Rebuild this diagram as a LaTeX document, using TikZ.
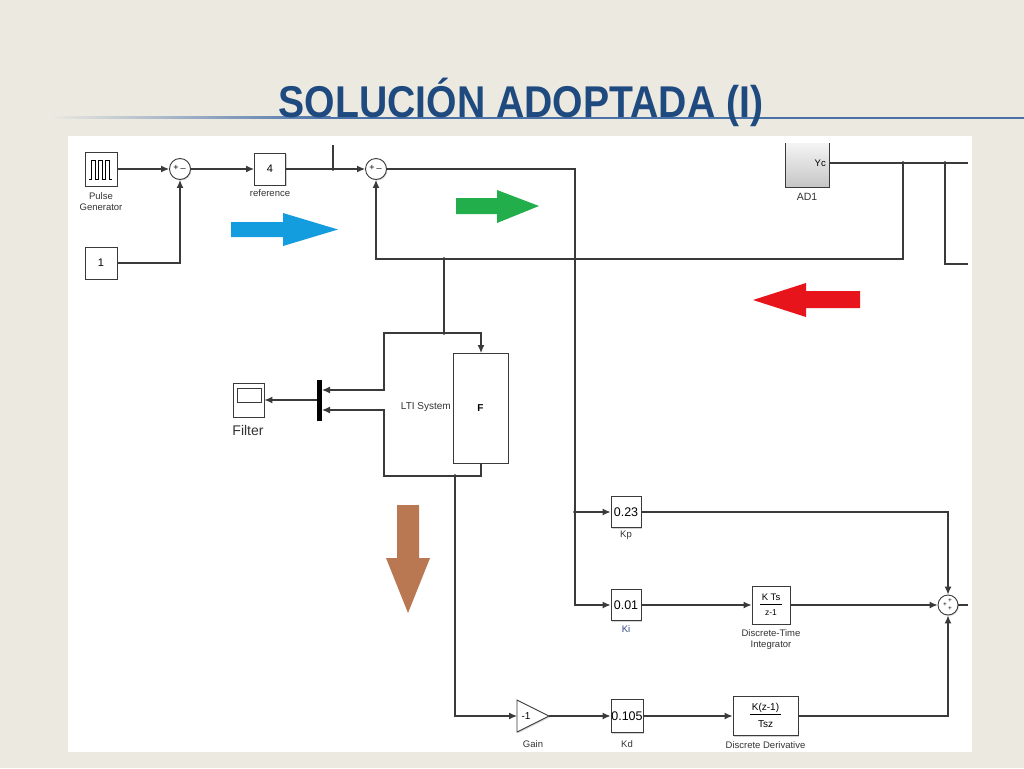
\documentclass[tikz,border=0pt]{standalone}
\usepackage{fontspec}
\setmainfont{Liberation Sans}
\usetikzlibrary{arrows.meta,shadows,calc}
\definecolor{bgc}{HTML}{ECE9E0}
\definecolor{tcol}{HTML}{1F4A80}
\definecolor{tline}{HTML}{4A72A8}
\definecolor{wc}{HTML}{3A3A3A}
\definecolor{lc}{HTML}{333333}
\definecolor{arblue}{HTML}{139DDE}
\definecolor{argreen}{HTML}{21AE4B}
\definecolor{arred}{HTML}{E8141C}
\definecolor{arbrown}{HTML}{B97752}
\definecolor{adtop}{HTML}{F4F4F4}
\definecolor{adbot}{HTML}{C6C6C6}
\newcommand\fsz[1]{\fontsize{#1}{#1}\selectfont}
\begin{document}
\begin{tikzpicture}[x=1pt,y=-1pt,
  wire/.style={draw=wc, line width=1.2},
  arr/.style={wire, -{Latex[length=8pt,width=7pt]}},
  blk/.style={draw=wc, line width=0.9, fill=white, inner sep=0,
     drop shadow={shadow xshift=1.4pt, shadow yshift=-1.4pt, opacity=0.35, fill=gray}},
  sumc/.style={circle, draw=wc, line width=0.9, fill=white, minimum size=21, inner sep=0,
     drop shadow={shadow xshift=1pt, shadow yshift=-1pt, opacity=0.3, fill=gray}},
  lbl/.style={font=\fsz{9.5}, text=lc, inner sep=0, align=center},
  dot/.style={circle, fill=black, inner sep=0, minimum size=3.6},
  sgn/.style={font=\fsz{9}, inner sep=0, text=black}]
\fill[bgc] (0,0) rectangle (1024,768);
\useasboundingbox (0,0) rectangle (1024,768);
% title
\shade[left color=bgc, right color=tline] (50,116.5) rectangle (330.5,118.5);
\fill[tline] (330,116.5) rectangle (1024,118.5);
\node[anchor=base, inner sep=0, text=tcol, font=\bfseries\fsz{44.5}, xscale=0.88] (title) at (521,117) {SOLUCIÓN ADOPTADA (I)};
% panel
\fill[white] (68,136) rectangle (972,752);
% coloured arrows
\fill[arblue] (231,222) -- (283,222) -- (283,213) -- (338,229.5) -- (283,246) -- (283,237) -- (231,237) -- cycle;
\fill[argreen] (456,198) -- (497,198) -- (497,190) -- (539,206) -- (497,223) -- (497,214) -- (456,214) -- cycle;
\fill[arred] (860,291) -- (806,291) -- (806,283) -- (753,300) -- (806,317) -- (806,308) -- (860,308) -- cycle;
\fill[arbrown] (397,505) -- (419,505) -- (419,558) -- (430,558) -- (408,613) -- (386,558) -- (397,558) -- cycle;
% blocks
\node[blk, minimum width=32, minimum height=34] (pulse) at (101,169) {};
\draw[line width=0.8, black] ($(pulse.center)+(-12,10)$) -- ++(2.5,0) -- ++(0,-19) -- ++(4,0) -- ++(0,19) -- ++(3,0) -- ++(0,-19) -- ++(4,0) -- ++(0,19) -- ++(3,0) -- ++(0,-19) -- ++(4,0) -- ++(0,19) -- ++(2,0);
\node[lbl] (pulselbl) at (101,201.5) {Pulse\\[1pt]Generator};
\node[blk, minimum width=32, minimum height=32, font=\fsz{11}] (one) at (101,263) {1};
\node[sumc] (s1) at (180,169) {};
\node[sgn] at ($(s1)+(-4,-1)$) {+};
\node[sgn] at ($(s1)+(3,-0.5)$) {\_};
\node[blk, minimum width=31, minimum height=32, font=\fsz{11}] (ref) at (270,169) {4};
\node[lbl] (reflbl) at (270,193) {reference};
\node[sumc] (s2) at (376,169) {};
\node[sgn] at ($(s2)+(-4,-1)$) {+};
\node[sgn] at ($(s2)+(3,-0.5)$) {\_};
% AD1
\node[minimum width=43, minimum height=44, top color=adtop, bottom color=adbot, inner sep=0] (ad1) at (807.5,165) {};
\draw[wc, line width=0.9] (ad1.north west) -- (ad1.south west) -- (ad1.south east) -- (ad1.north east);
\node[font=\fsz{9.5}, inner sep=0, anchor=east] (yc) at (826,163) {Yc};
\node[lbl, font=\fsz{10.5}] (ad1lbl) at (807,197) {AD1};
\coordinate (ycout) at (829,163);
% LTI system
\node[blk, minimum width=55, minimum height=110, font=\bfseries\fsz{10}] (F) at (480.5,408) {F};
\node[lbl, font=\fsz{10}, anchor=east] (lti) at (451,407) {LTI System};
\node[fill=black, minimum width=5, minimum height=41, inner sep=0] (mux) at (319.5,400) {};
\node[blk, minimum width=31, minimum height=34] (filt) at (248.5,400) {};
\draw[wc, line width=0.8] (237,388) rectangle (261,402);
\node[lbl, font=\fsz{14}] (filtlbl) at (248,430) {Filter};
% PID
\node[blk, minimum width=30, minimum height=31] (kp) at (626,512) {\fsz{12.5}0.23};
\node[lbl] (kplbl) at (626,535) {Kp};
\node[blk, minimum width=30, minimum height=31] (ki) at (626,605) {\fsz{12.5}0.01};
\node[lbl, text={rgb,255:red,50;green,70;blue,140}] (kilbl) at (626,629) {Ki};
\node[blk, minimum width=38, minimum height=38] (int) at (771,605) {};
\node[font=\fsz{9.5}, inner sep=0] (intnum) at (771,597) {K Ts};
\draw[line width=0.7] (760,604) -- (782,604);
\node[font=\fsz{8.5}, inner sep=0] (intden) at (771,613) {z-1};
\node[lbl] (intlbl) at (771,639.5) {Discrete-Time\\[1pt]Integrator};
\node[sumc, minimum size=20] (s3) at (948,605) {};
\node[sgn, font=\fsz{6.5}] at ($(s3)+(2,-4)$) {+};
\node[sgn, font=\fsz{6.5}] at ($(s3)+(-3,0)$) {+};
\node[sgn, font=\fsz{6.5}] at ($(s3)+(2,4)$) {+};
% derivative branch
\draw[wc, line width=0.9, fill=white, drop shadow={shadow xshift=1.2pt, shadow yshift=-1.2pt, opacity=0.3, fill=gray}] (517,700) -- (549,716) -- (517,732) -- cycle;
\coordinate (gin) at (517,716);
\coordinate (gout) at (549,716);
\node[font=\fsz{10}, inner sep=0] (gtxt) at (526,716) {-1};
\node[lbl] (glbl) at (533,744) {Gain};
\node[blk, minimum width=32, minimum height=33] (kd) at (627,716) {\fsz{12.5}0.105};
\node[lbl] (kdlbl) at (627,744) {Kd};
\node[blk, minimum width=65, minimum height=39] (der) at (765.5,716) {};
\node[font=\fsz{10}, inner sep=0] (dernum) at (765.5,707.5) {K(z-1)};
\draw[line width=0.7] (750,714) -- (781,714);
\node[font=\fsz{10}, inner sep=0] (derden) at (765.5,724.5) {Tsz};
\node[lbl] (derlbl) at (765.5,745) {Discrete Derivative};
% junctions
\node[dot] (j1) at (333,169) {};
\node[dot] (j2) at (444,259) {};
\node[dot] (j3) at (575,512) {};
\node[dot] (j4) at (444,333) {};
\node[dot] (j5) at (455,476) {};
\node[dot] (j6) at (903,163) {};
\node[dot] (j7) at (945,163) {};
\coordinate (topend) at (333,145);
\coordinate (rend1) at (968,163);
\coordinate (rend2) at (968,264);
\coordinate (rend3) at (968,605);
% connectors
\draw[arr] (pulse.east) -- (s1.west);
\draw[arr] (one.east) -| (s1.south);
\draw[arr] (s1.east) -- (ref.west);
\draw[arr] (ref.east) -- (s2.west);
\draw[wire] (j1.center) -- (topend);
\draw[wire] (ycout) -- (rend1);
\draw[wire] (j6.center) -- (903,259) -- (j2.center);
\draw[arr] (j2.center) -| (s2.south);
\draw[wire] (j7.center) -- (945,264) -- (rend2);
\draw[wire] (s2.east) -- (575,169) -- (j3.center);
\draw[arr] (j3.center) -- (575,605) -- (ki.west);
\draw[arr] (j3.center) -- (kp.west);
\draw[wire] (j2.center) -- (j4.center);
\draw[arr] (j4.center) -- (481,333) -- (481,353);
\draw[arr] (j4.center) -- (384,333) -- (384,390) -- (322,390);
\draw[arr] (481,463) -- (481,476) -- (384,476) -- (384,410) -- (322,410);
\draw[arr] (mux.west) -- (filt.east);
\draw[arr] (j5.center) -- (455,716) -- (gin);
\draw[arr] (gout) -- (kd.west);
\draw[arr] (kd.east) -- (der.west);
\draw[arr] (der.east) -- (948,716) -- (s3.south);
\draw[arr] (kp.east) -- (948,512) -- (s3.north);
\draw[arr] (ki.east) -- (int.west);
\draw[arr] (int.east) -- (s3.west);
\draw[wire] (s3.east) -- (rend3);
\end{tikzpicture}
\end{document}
